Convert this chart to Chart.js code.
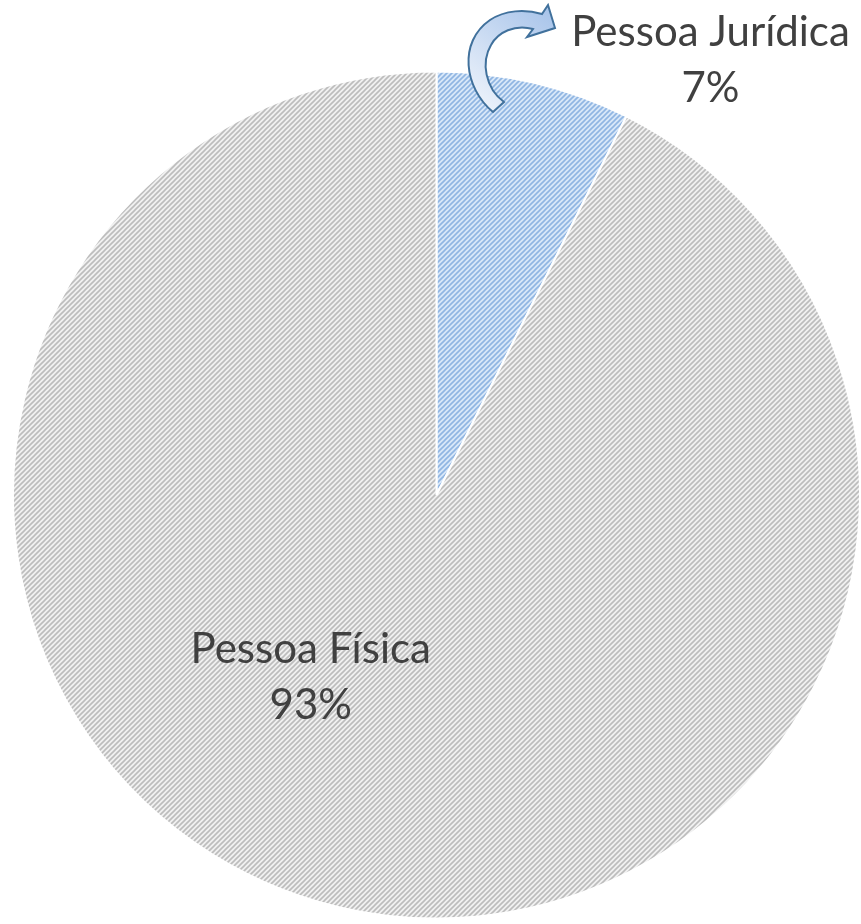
<!DOCTYPE html>
<html>
<head>
<meta charset="utf-8">
<script src="https://cdn.jsdelivr.net/npm/chart.js@4/dist/chart.umd.min.js"></script>
<style>
  html, body { margin: 0; padding: 0; background: #fff; }
  #wrap { width: 861px; height: 924px; }
</style>
</head>
<body>
<div id="wrap"><canvas id="graficoPizza" width="861" height="924"></canvas></div>
<script>
const categorias = ['Pessoa Jurídica', 'Pessoa Física'];
const valores = [7.4, 92.6];
const rotulosPct = ['7%', '93%'];

// ============================
// HACHURA DIAGONAL
// ============================
function criarHachura(fundo, linha) {
  const s = 5;
  const c = document.createElement('canvas');
  c.width = s; c.height = s;
  const g = c.getContext('2d');
  g.fillStyle = fundo;
  g.fillRect(0, 0, s, s);
  g.strokeStyle = linha;
  g.lineWidth = 1.6;
  g.beginPath();
  g.moveTo(-1, s + 1); g.lineTo(s + 1, -1);
  g.moveTo(-1, 1); g.lineTo(1, -1);
  g.moveTo(s - 1, s + 1); g.lineTo(s + 1, s - 1);
  g.stroke();
  return g.createPattern(c, 'repeat');
}

const ctx = document.getElementById('graficoPizza').getContext('2d');
const cores = [
  criarHachura('#d8e7f8', '#8fb5e2'),
  criarHachura('#f0f0f0', '#bcbcbc')
];

// posição dos rótulos (fração do raio, a partir do centro)
const posRotulos = [
  { dx: 0.647, dy: -1.025 },
  { dx: -0.297, dy: 0.43 }
];

const pluginRotulos = {
  id: 'rotulos',
  afterDatasetsDraw(chart) {
    const c = chart.ctx;
    const arcos = chart.getDatasetMeta(0).data;
    c.save();
    c.font = '42px Lato, "Open Sans", sans-serif';
    c.fillStyle = '#404040';
    c.textAlign = 'center';
    c.textBaseline = 'middle';
    arcos.forEach((a, i) => {
      const r = a.outerRadius;
      const x = a.x + posRotulos[i].dx * r;
      const y = a.y + posRotulos[i].dy * r;
      c.fillText(categorias[i], x, y - 28);
      c.fillText(rotulosPct[i], x, y + 28);
    });

    // seta curva
    const g = c.createLinearGradient(470, 110, 550, 10);
    g.addColorStop(0, '#f2f6fc');
    g.addColorStop(1, '#a8c4ea');
    c.beginPath();
    c.moveTo(493, 112);
    c.bezierCurveTo(464, 88, 458, 42, 490, 20);
    c.bezierCurveTo(505, 10, 525, 9, 542, 14);
    c.lineTo(548, 5);
    c.lineTo(555, 28);
    c.lineTo(527, 37);
    c.lineTo(533, 29);
    c.bezierCurveTo(515, 24, 498, 32, 491, 45);
    c.bezierCurveTo(481, 62, 485, 88, 504, 102);
    c.closePath();
    c.fillStyle = g;
    c.fill();
    c.strokeStyle = '#41719c';
    c.lineWidth = 2;
    c.stroke();
    c.restore();
  }
};

new Chart(ctx, {
  type: 'pie',
  data: {
    labels: categorias,
    datasets: [{
      data: valores,
      backgroundColor: cores,
      borderColor: '#ffffff',
      borderWidth: 2
    }]
  },
  options: {
    responsive: false,
    animation: false,
    layout: { padding: { top: 70, bottom: 4, left: 12, right: 0 } },
    plugins: {
      legend: { display: false },
      tooltip: { enabled: false }
    }
  },
  plugins: [pluginRotulos]
});
</script>
</body>
</html>
